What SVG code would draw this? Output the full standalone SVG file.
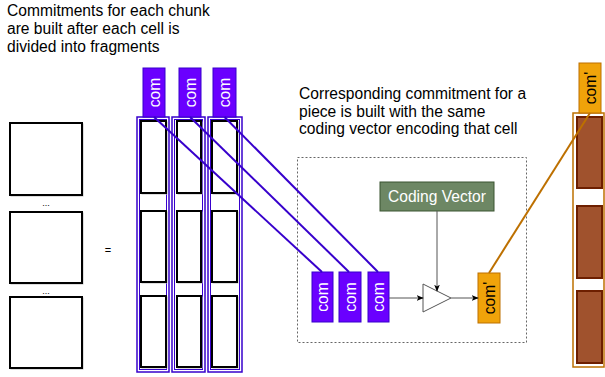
<svg xmlns="http://www.w3.org/2000/svg" width="605" height="377" viewBox="0 0 605 377">
  <style>
    .txt { font-family: "Liberation Sans", Arial, sans-serif; font-size: 15.6px; fill: #000; }
    .cell { fill: #fff; stroke: #000; stroke-width: 2; }
    .shade { fill: none; stroke: #bbb; stroke-width: 1; }
    .col { fill: #fff; stroke: #3700cc; stroke-width: 1.5; }
    .colin { fill: none; stroke: #3700cc; stroke-width: 1; }
    .com { fill: #6a00ff; stroke: #3700cc; stroke-width: 1; }
    .comtxt { font-family: "Liberation Sans", Arial, sans-serif; font-size: 15.6px; fill: #fff; text-anchor: middle; dominant-baseline: central; }
    .comp { fill: #f0a30a; stroke: #bd7000; stroke-width: 1; }
    .comptxt { font-family: "Liberation Sans", Arial, sans-serif; font-size: 15.6px; fill: #000; text-anchor: middle; dominant-baseline: central; }
    .frag { fill: #a0522d; stroke: #6d1f00; stroke-width: 2; }
    .link { stroke: #3700cc; stroke-width: 2; fill: none; }
    .olink { stroke: #bd7000; stroke-width: 2; fill: none; }
    .arrow { stroke: #555; stroke-width: 1; fill: none; marker-end: url(#tip); }
  </style>
  <defs>
    <marker id="tip" viewBox="0 0 10 10" refX="9" refY="5" markerWidth="7" markerHeight="7" orient="auto" markerUnits="userSpaceOnUse">
      <path d="M0,1 L10,5 L0,9 L2.5,5 Z" fill="#000"/>
    </marker>
  </defs>

  <!-- captions -->
  <g id="caption-left">
    <text class="txt" x="7" y="16">Commitments for each chunk</text>
    <text class="txt" x="7" y="34">are built after each cell is</text>
    <text class="txt" x="7" y="52">divided into fragments</text>
  </g>
  <g id="caption-mid">
    <text class="txt" x="299" y="99">Corresponding commitment for a</text>
    <text class="txt" x="299" y="116.5">piece is built with the same</text>
    <text class="txt" x="299" y="134">coding vector encoding that cell</text>
  </g>

  <!-- source cells -->
  <g id="cells">
    <rect class="shade" x="11" y="124" width="72" height="72"/>
    <rect class="cell" x="10" y="123" width="72" height="72"/>
    <text x="46" y="206" font-family="Liberation Sans, Arial, sans-serif" font-size="9" text-anchor="middle">...</text>
    <rect class="shade" x="11" y="213" width="72" height="71"/>
    <rect class="cell" x="10" y="212" width="72" height="71"/>
    <text x="46" y="294" font-family="Liberation Sans, Arial, sans-serif" font-size="9" text-anchor="middle">...</text>
    <rect class="shade" x="11" y="298" width="72" height="71"/>
    <rect class="cell" x="10" y="297" width="72" height="71"/>
    <text x="108" y="254" font-family="Liberation Sans, Arial, sans-serif" font-size="11" text-anchor="middle">=</text>
  </g>

  <!-- fragment columns -->
  <g id="column-1">
    <rect class="col" x="137" y="117" width="32" height="255"/>
    <rect class="colin" x="139.5" y="119.5" width="27" height="250"/>
    <rect class="shade" x="142" y="122" width="25" height="72"/>
    <rect class="cell" x="141" y="121" width="25" height="72"/>
    <rect class="shade" x="142" y="212" width="25" height="71"/>
    <rect class="cell" x="141" y="211" width="25" height="71"/>
    <rect class="shade" x="142" y="297" width="25" height="71"/>
    <rect class="cell" x="141" y="296" width="25" height="71"/>
    <rect class="com" x="143" y="68" width="22" height="49"/>
    <text class="comtxt" transform="translate(154,92.5) rotate(-90)">com</text>
  </g>
  <g id="column-2">
    <rect class="col" x="172" y="117" width="33" height="255"/>
    <rect class="colin" x="174.5" y="119.5" width="28" height="250"/>
    <rect class="shade" x="178" y="122" width="24" height="72"/>
    <rect class="cell" x="177" y="121" width="24" height="72"/>
    <rect class="shade" x="178" y="212" width="24" height="71"/>
    <rect class="cell" x="177" y="211" width="24" height="71"/>
    <rect class="shade" x="178" y="297" width="24" height="71"/>
    <rect class="cell" x="177" y="296" width="24" height="71"/>
    <rect class="com" x="179" y="68" width="22" height="49"/>
    <text class="comtxt" transform="translate(190,92.5) rotate(-90)">com</text>
  </g>
  <g id="column-3">
    <rect class="col" x="208" y="117" width="34" height="255"/>
    <rect class="colin" x="210.5" y="119.5" width="29" height="250"/>
    <rect class="shade" x="213" y="122" width="25" height="72"/>
    <rect class="cell" x="212" y="121" width="25" height="72"/>
    <rect class="shade" x="213" y="212" width="25" height="71"/>
    <rect class="cell" x="212" y="211" width="25" height="71"/>
    <rect class="shade" x="213" y="297" width="25" height="71"/>
    <rect class="cell" x="212" y="296" width="25" height="71"/>
    <rect class="com" x="213" y="68" width="23" height="49"/>
    <text class="comtxt" transform="translate(224.5,92.5) rotate(-90)">com</text>
  </g>

  <!-- piece construction frame -->
  <g id="frame">
    <rect x="297.5" y="157.5" width="229" height="185" fill="none" stroke="#666" stroke-width="1" stroke-dasharray="2,2"/>
  </g>
  <g id="coding-vector">
    <rect x="380" y="182" width="114" height="29" fill="#6d8764" stroke="#3a5431" stroke-width="1"/>
    <text x="437" y="202" font-family="Liberation Sans, Arial, sans-serif" font-size="15.6" fill="#fff" text-anchor="middle">Coding Vector</text>
  </g>
  <g id="com-a">
    <rect class="com" x="312" y="272" width="21" height="50"/>
    <text class="comtxt" transform="translate(322.5,297) rotate(-90)">com</text>
  </g>
  <g id="com-b">
    <rect class="com" x="339" y="272" width="22" height="50"/>
    <text class="comtxt" transform="translate(350,297) rotate(-90)">com</text>
  </g>
  <g id="com-c">
    <rect class="com" x="368" y="272" width="21" height="50"/>
    <text class="comtxt" transform="translate(378.5,297) rotate(-90)">com</text>
  </g>
  <g id="combiner">
    <path d="M423,284 L451,298 L423,312 Z" fill="#fff" stroke="#555" stroke-width="1"/>
  </g>
  <g id="com-prime">
    <rect class="comp" x="478" y="273" width="22" height="50"/>
    <text class="comptxt" transform="translate(489,298) rotate(-90)">com'</text>
  </g>

  <!-- coded piece column -->
  <g id="piece-column">
    <rect x="573" y="113" width="31" height="254" fill="#fff" stroke="#bd7000" stroke-width="1.5"/>
    <rect class="frag" x="577" y="117" width="25" height="71"/>
    <rect class="frag" x="577" y="206" width="25" height="72"/>
    <rect class="frag" x="577" y="291" width="25" height="72"/>
    <rect class="comp" x="579" y="63" width="22" height="50"/>
    <text class="comptxt" transform="translate(590,88) rotate(-90)">com'</text>
  </g>

  <!-- connectors -->
  <g id="connectors">
    <line class="link" x1="154" y1="117" x2="322" y2="272"/>
    <line class="link" x1="190" y1="117" x2="349" y2="272"/>
    <line class="link" x1="224.5" y1="117" x2="378" y2="272"/>
    <line class="olink" x1="590" y1="113" x2="489" y2="273"/>
    <line class="arrow" x1="389" y1="298" x2="423" y2="298"/>
    <line class="arrow" x1="437" y1="211" x2="437" y2="291"/>
    <line class="arrow" x1="451" y1="298" x2="478" y2="298"/>
  </g>
</svg>
